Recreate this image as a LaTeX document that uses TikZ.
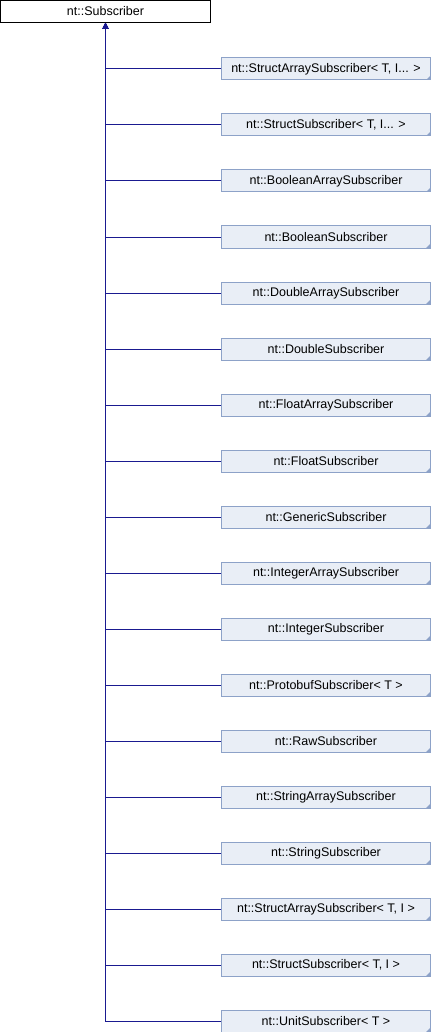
\documentclass[tikz,border=0pt]{standalone}
\usepackage{fontspec}
\setmainfont{Liberation Sans}
\usepackage{tikz}
\usetikzlibrary{arrows.meta, positioning}
\definecolor{edgeblue}{HTML}{1A1A90}
\definecolor{classfill}{HTML}{E9EEF6}
\definecolor{classline}{HTML}{8DA2C8}

\begin{document}
\begin{tikzpicture}[
  x=1pt, y=-1pt,
  node distance=33pt,
  base/.style={draw=black, fill=white, line width=1pt, minimum width=210pt, minimum height=22pt, inner sep=0pt, font=\fontsize{12.5}{14}\selectfont},
  derived/.style={draw=classline, fill=classfill, line width=1pt, minimum width=209pt, minimum height=22pt, inner sep=0pt, font=\fontsize{12.5}{14}\selectfont,
    path picture={\fill[classline] (path picture bounding box.south east) -- ++(-4.5pt,0pt) -- ++(4.5pt,4.5pt) -- cycle;}},
  inh/.style={draw=edgeblue, line width=1pt, -{Triangle[length=6pt, width=6pt]}},
]
  \useasboundingbox (0,0) rectangle (432,1032);
  \node[base] (sub) at (105.5,11.5) {nt::Subscriber};
  \node[derived] (sarrI) at (326,69) {nt::StructArraySubscriber< T, I... >};
  \node[derived, below=of sarrI] (structI) {nt::StructSubscriber< T, I... >};
  \node[derived, below=of structI] (boolarr) {nt::BooleanArraySubscriber};
  \node[derived, below=of boolarr] (bool) {nt::BooleanSubscriber};
  \node[derived, below=of bool] (dblarr) {nt::DoubleArraySubscriber};
  \node[derived, below=of dblarr] (dbl) {nt::DoubleSubscriber};
  \node[derived, below=of dbl] (fltarr) {nt::FloatArraySubscriber};
  \node[derived, below=of fltarr] (flt) {nt::FloatSubscriber};
  \node[derived, below=of flt] (generic) {nt::GenericSubscriber};
  \node[derived, below=of generic] (intarr) {nt::IntegerArraySubscriber};
  \node[derived, below=of intarr] (int) {nt::IntegerSubscriber};
  \node[derived, below=of int] (proto) {nt::ProtobufSubscriber< T >};
  \node[derived, below=of proto] (raw) {nt::RawSubscriber};
  \node[derived, below=of raw] (strarr) {nt::StringArraySubscriber};
  \node[derived, below=of strarr] (str) {nt::StringSubscriber};
  \node[derived, below=of str] (sarr) {nt::StructArraySubscriber< T, I >};
  \node[derived, below=of sarr] (struct) {nt::StructSubscriber< T, I >};
  \node[derived, below=of struct] (unit) {nt::UnitSubscriber< T >};

  \draw[inh] (sarrI) -| (sub);
  \draw[inh] (structI) -| (sub);
  \draw[inh] (boolarr) -| (sub);
  \draw[inh] (bool) -| (sub);
  \draw[inh] (dblarr) -| (sub);
  \draw[inh] (dbl) -| (sub);
  \draw[inh] (fltarr) -| (sub);
  \draw[inh] (flt) -| (sub);
  \draw[inh] (generic) -| (sub);
  \draw[inh] (intarr) -| (sub);
  \draw[inh] (int) -| (sub);
  \draw[inh] (proto) -| (sub);
  \draw[inh] (raw) -| (sub);
  \draw[inh] (strarr) -| (sub);
  \draw[inh] (str) -| (sub);
  \draw[inh] (sarr) -| (sub);
  \draw[inh] (struct) -| (sub);
  \draw[inh] (unit) -| (sub);
\end{tikzpicture}
\end{document}
